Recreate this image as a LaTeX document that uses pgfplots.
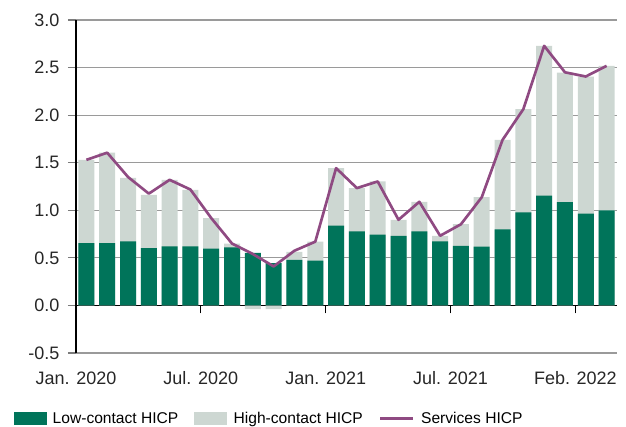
\documentclass[border=0pt]{standalone}
\usepackage{pgfplots}
\usepackage{pgfplotstable}
\pgfplotsset{compat=1.18}
\usepackage{fontspec}
\setmainfont{Liberation Sans}
\definecolor{lowc}{HTML}{00745A}
\definecolor{highc}{HTML}{CDD7D2}
\definecolor{servc}{HTML}{8F4A82}
\definecolor{gridc}{HTML}{9A9A9A}
\pgfplotstableread{
idx low high serv
0 0.655 0.875 1.530
1 0.655 0.950 1.605
2 0.672 0.668 1.350
3 0.603 0.560 1.175
4 0.620 0.700 1.320
5 0.620 0.595 1.218
6 0.598 0.320 0.918
7 0.610 0.040 0.650
8 0.553 -0.038 0.540
9 0.445 -0.038 0.410
10 0.480 0.084 0.575
11 0.470 0.200 0.670
12 0.840 0.603 1.443
13 0.777 0.456 1.233
14 0.743 0.560 1.303
15 0.732 0.168 0.900
16 0.777 0.312 1.089
17 0.672 0.060 0.732
18 0.627 0.228 0.853
19 0.617 0.520 1.137
20 0.800 0.940 1.740
21 0.977 1.086 2.063
22 1.155 1.573 2.728
23 1.086 1.362 2.450
24 0.966 1.440 2.406
25 0.998 1.520 2.518
}\datatable
\begin{document}
\begin{tikzpicture}[font=\fontsize{13.5}{15}\selectfont]
\begin{axis}[
  scale only axis, width=405.75pt, height=249.75pt,
  xmin=-0.5, xmax=25.5, ymin=-0.5, ymax=3,
  axis x line=middle, axis y line=left,
  axis line style={-, black, line width=0.9pt},
  hide obscured x ticks=false, hide obscured y ticks=false,
  xtick={-0.5,5.5,11.5,17.5,23.5},
  xticklabels={Jan. 2020, Jul. 2020, Jan. 2021, Jul. 2021, Feb. 2022},
  xticklabel style={yshift=-40pt, text=black!85},
  ytick={-0.5,0,0.5,1,1.5,2,2.5,3},
  yticklabel style={/pgf/number format/fixed, /pgf/number format/fixed zerofill,
    /pgf/number format/precision=1, /pgf/number format/assume math mode=true,
    text=black!85, xshift=-3pt},
  ymajorgrids, grid style={gridc, line width=0.8pt},
  tick align=outside, major tick length=6pt,
  x tick style={black, line width=0.9pt},
  y tick style={gridc!80!black, line width=0.8pt},
  legend columns=3,
  legend style={draw=none, fill=none, at={(-0.116,-0.197)}, anchor=west, inner sep=0pt,
    font=\fontsize{11.7}{14}\selectfont,
    /tikz/every odd column/.append style={column sep=3pt},
    /tikz/every even column/.append style={column sep=10pt}},
  legend cell align=left,
]
\addlegendimage{legend image code/.code={\fill[lowc] (0pt,-4.5pt) rectangle (24pt,4.5pt);}}
\addlegendentry{Low-contact HICP}
\addlegendimage{legend image code/.code={\fill[highc] (0pt,-4.5pt) rectangle (24pt,4.5pt);}}
\addlegendentry{High-contact HICP}
\addlegendimage{legend image code/.code={\draw[servc, line width=2pt] (0pt,0pt) -- (24.75pt,0pt);}}
\addlegendentry{Services HICP}
\addplot[ybar, bar width=12pt, bar shift=0pt, fill=highc, draw=none, forget plot]
  table[x=idx, y expr={ifthenelse(\thisrow{high}>0, \thisrow{low}+\thisrow{high}, \thisrow{high})}] {\datatable};
\addplot[ybar, bar width=12pt, bar shift=0pt, fill=lowc, draw=none, forget plot]
  table[x=idx, y=low] {\datatable};
\addplot[servc, line width=2pt, mark=none, line join=round, forget plot]
  table[x=idx, y=serv] {\datatable};
\end{axis}
\pgfresetboundingbox
\useasboundingbox (-57pt,-55.5pt) rectangle (412.5pt,264.75pt);
\end{tikzpicture}
\end{document}
